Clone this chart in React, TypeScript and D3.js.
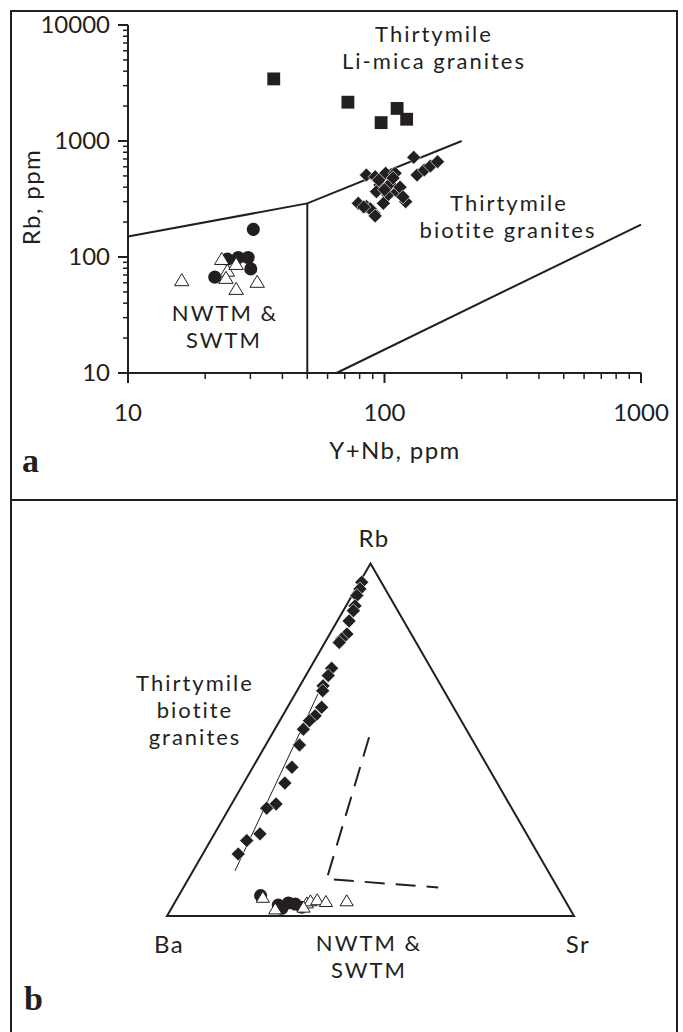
import React from 'react';
import * as d3 from 'd3';

// panel a: Rb vs Y+Nb (ppm)
const liMicaYNb = [37, 72, 112, 97, 122];
const liMicaRb = [3430, 2160, 1910, 1440, 1540];

const biotiteYNb = [130, 134, 143, 151, 161, 85, 92, 101, 110, 96, 105, 93, 103, 112, 121, 79, 85, 91, 99, 88, 92, 95, 108, 115, 100, 83, 118];
const biotiteRb = [723, 509, 563, 609, 663, 509, 492, 527, 527, 418, 426, 366, 342, 366, 300, 290, 272, 238, 290, 260, 226, 460, 480, 400, 380, 270, 330];

const nwtmYNb = [30.8, 24.4, 26.9, 29.4, 30.1, 21.8];
const nwtmRb = [173, 96, 99, 99, 79, 67];

const swtmYNb = [16.2, 23.2, 24.4, 24.1, 26.4, 31.9, 26.4];
const swtmRb = [63, 96, 76, 66, 53, 61, 87];

const upperBoundary: [number, number][] = [[10, 150], [50, 290], [200, 1000]];
const verticalBoundary: [number, number][] = [[50, 10], [50, 290]];
const lowerBoundary: [number, number][] = [[65, 10], [1000, 190]];

const xTickLabels = [10, 100, 1000];
const yTickLabels = [10, 100, 1000, 10000];

// panel b: Rb-Ba-Sr ternary (fractions, Ba = 1 - Rb - Sr)
const ternBiotiteRb = [0.947, 0.928, 0.909, 0.88, 0.866, 0.837, 0.8, 0.786, 0.776, 0.703, 0.682, 0.653, 0.639, 0.592, 0.568, 0.554, 0.53, 0.485, 0.422, 0.377, 0.318, 0.306, 0.233, 0.214, 0.176];
const ternBiotiteSr = [0.005, 0.01, 0.012, 0.022, 0.025, 0.029, 0.042, 0.036, 0.035, 0.053, 0.055, 0.057, 0.063, 0.084, 0.08, 0.073, 0.07, 0.083, 0.096, 0.101, 0.109, 0.092, 0.112, 0.089, 0.087];

const ternNwtmRb = [0.058, 0.031, 0.037, 0.034, 0.025, 0.022];
const ternNwtmSr = [0.201, 0.258, 0.28, 0.298, 0.319, 0.271];

const ternSwtmRb = [0.053, 0.02, 0.037, 0.043, 0.046, 0.041, 0.043, 0.025];
const ternSwtmSr = [0.209, 0.256, 0.325, 0.331, 0.346, 0.37, 0.42, 0.323];

const ternField: [number, number][] = [[0.507, 0.243], [0.105, 0.34], [0.081, 0.626]];
const ternTrend: [number, number][] = [[0.63, 0.056], [0.128, 0.103]];

const FONT = 'Lato, "Open Sans", sans-serif';

export default function App() {
    const x = d3.scaleLog().domain([10, 1000]).range([128, 641]);
    const y = d3.scaleLog().domain([10, 10000]).range([373, 25]);

    const line = d3.line<[number, number]>()
        .x(d => x(d[0]))
        .y(d => y(d[1]));

    const minorX: number[] = [];
    [10, 100].forEach(dec => { for (let i = 2; i <= 9; i++) minorX.push(dec * i); });
    const minorY: number[] = [];
    [10, 100, 1000].forEach(dec => { for (let i = 2; i <= 9; i++) minorY.push(dec * i); });

    // ternary geometry
    const ba = {x: 167, y: 916}, sr = {x: 574, y: 916};
    const side = sr.x - ba.x;
    const rbY = d3.scaleLinear().domain([0, 1]).range([ba.y, ba.y - side * Math.sqrt(3) / 2]);
    const srX = d3.scaleLinear().domain([0, 1]).range([0, side]);
    const tx = (rb: number, s: number) => ba.x + srX(s) + srX(rb) / 2;
    const ty = (rb: number) => rbY(rb);
    const apex = {x: tx(1, 0), y: ty(1)};
    const ternLine = d3.line<[number, number]>()
        .x(d => tx(d[0], d[1]))
        .y(d => ty(d[0]));

    const diamond = d3.symbol().type(d3.symbolSquare).size(98)();
    const square = d3.symbol().type(d3.symbolSquare).size(165)();
    const circle = d3.symbol().type(d3.symbolCircle).size(135)();
    const tri = (cx: number, cy: number, s: number) =>
        `M${cx},${cy - s * 0.55}L${cx + s * 0.6},${cy + s * 0.45}L${cx - s * 0.6},${cy + s * 0.45}Z`;

    const txt = {fontFamily: FONT, fill: '#231f20'} as const;
    // stacked two/three-line labels
    const lbl = {...txt, fontSize: 22, letterSpacing: 2} as const;

    return (
        <svg width={683} height={1032} style={{position: 'absolute', left: 0, top: 0, background: '#fff'}}>
            {/* frame */}
            <g stroke="#231f20" strokeWidth={2} fill="none">
                <line x1={11} y1={11} x2={677} y2={11}/>
                <line x1={11} y1={10} x2={11} y2={1032}/>
                <line x1={677} y1={10} x2={677} y2={1032}/>
                <line x1={11} y1={500} x2={677} y2={500}/>
            </g>

            {/* panel a axes */}
            <g stroke="#231f20" strokeWidth={2}>
                <line x1={x(10)} y1={y(10000)} x2={x(10)} y2={y(10)}/>
                <line x1={x(10)} y1={y(10)} x2={x(1000)} y2={y(10)}/>
                {yTickLabels.map(v => <line key={'ym' + v} x1={x(10) - 10} x2={x(10)} y1={y(v)} y2={y(v)}/>)}
                {minorY.map(v => <line key={'yn' + v} strokeWidth={1.5} x1={x(10) - 5} x2={x(10)} y1={y(v)} y2={y(v)}/>)}
                {xTickLabels.map(v => <line key={'xm' + v} x1={x(v)} x2={x(v)} y1={y(10)} y2={y(10) + 10}/>)}
                {minorX.map(v => <line key={'xn' + v} strokeWidth={1.5} x1={x(v)} x2={x(v)} y1={y(10)} y2={y(10) + 6}/>)}
            </g>
            <g {...txt} fontSize={24}>
                {yTickLabels.map(v => <text key={'yl' + v} x={110} y={y(v) + 8} textAnchor="end">{v}</text>)}
                {xTickLabels.map(v => <text key={'xl' + v} x={x(v)} y={421} textAnchor="middle">{v}</text>)}
            </g>
            <g {...txt} fontSize={24} letterSpacing={1.4}>
                <text x={395} y={459} textAnchor="middle">Y+Nb, ppm</text>
                <text transform="translate(40,197) rotate(-90)" textAnchor="middle">Rb, ppm</text>
            </g>
            <g {...lbl}>
                <text x={434} y={42} textAnchor="middle">Thirtymile</text>
                <text x={434} y={69} textAnchor="middle">Li-mica granites</text>
                <text x={509} y={211} textAnchor="middle">Thirtymile</text>
                <text x={508} y={238} textAnchor="middle">biotite granites</text>
                <text x={225} y={321} textAnchor="middle">NWTM &amp;</text>
                <text x={224} y={348} textAnchor="middle">SWTM</text>
            </g>
            <text x={22} y={472} fontFamily='"Liberation Serif", serif' fontWeight="bold" fontSize={34} fill="#231f20">a</text>

            {/* field boundaries */}
            <g stroke="#231f20" strokeWidth={2} fill="none">
                <path d={line(upperBoundary) || ''}/>
                <path d={line(verticalBoundary) || ''}/>
                <path d={line(lowerBoundary) || ''}/>
            </g>

            {/* panel a points */}
            <g fill="#231f20">
                {liMicaYNb.map((v, i) => <path key={'sq' + i} d={square} transform={`translate(${x(v)},${y(liMicaRb[i])})`}/>)}
                {biotiteYNb.map((v, i) => <path key={'di' + i} d={diamond} stroke="#fff" strokeWidth={0.6} transform={`translate(${x(v)},${y(biotiteRb[i])}) rotate(45)`}/>)}
                {nwtmYNb.map((v, i) => <path key={'ci' + i} d={circle} transform={`translate(${x(v)},${y(nwtmRb[i])})`}/>)}
            </g>
            <g fill="#fff" stroke="#231f20" strokeWidth={1}>
                {swtmYNb.map((v, i) => <path key={'tr' + i} d={tri(x(v), y(swtmRb[i]), 12)}/>)}
            </g>

            {/* panel b ternary */}
            <path d={`M${ba.x},${ba.y}L${sr.x},${sr.y}L${apex.x},${apex.y}Z`} fill="none" stroke="#231f20" strokeWidth={2} strokeLinejoin="miter"/>
            <path d={ternLine(ternField) || ''} fill="none" stroke="#231f20" strokeWidth={2} strokeDasharray="20,11"/>
            <path d={ternLine(ternTrend) || ''} fill="none" stroke="#231f20" strokeWidth={1}/>
            <g fill="#231f20">
                {ternBiotiteRb.map((v, i) => <path key={'tdi' + i} d={diamond} stroke="#fff" strokeWidth={0.6} transform={`translate(${tx(v, ternBiotiteSr[i])},${ty(v)}) rotate(45)`}/>)}
                {ternNwtmRb.map((v, i) => <path key={'tci' + i} d={circle} transform={`translate(${tx(v, ternNwtmSr[i])},${ty(v)})`}/>)}
            </g>
            <g fill="#fff" stroke="#231f20" strokeWidth={1}>
                {ternSwtmRb.map((v, i) => <path key={'ttr' + i} d={tri(tx(v, ternSwtmSr[i]), ty(v), 11)}/>)}
            </g>
            <g {...txt} fontSize={24} letterSpacing={1.4}>
                <text x={374} y={547} textAnchor="middle">Rb</text>
                <text x={169} y={953} textAnchor="middle">Ba</text>
                <text x={578} y={953} textAnchor="middle">Sr</text>
            </g>
            <g {...lbl}>
                <text x={369} y={951} textAnchor="middle">NWTM &amp;</text>
                <text x={369} y={978} textAnchor="middle">SWTM</text>
                <text x={195} y={691} textAnchor="middle">Thirtymile</text>
                <text x={195} y={718} textAnchor="middle">biotite</text>
                <text x={195} y={745} textAnchor="middle">granites</text>
            </g>
            <text x={24} y={1010} fontFamily='"Liberation Serif", serif' fontWeight="bold" fontSize={34} fill="#231f20">b</text>
        </svg>
    );
}
